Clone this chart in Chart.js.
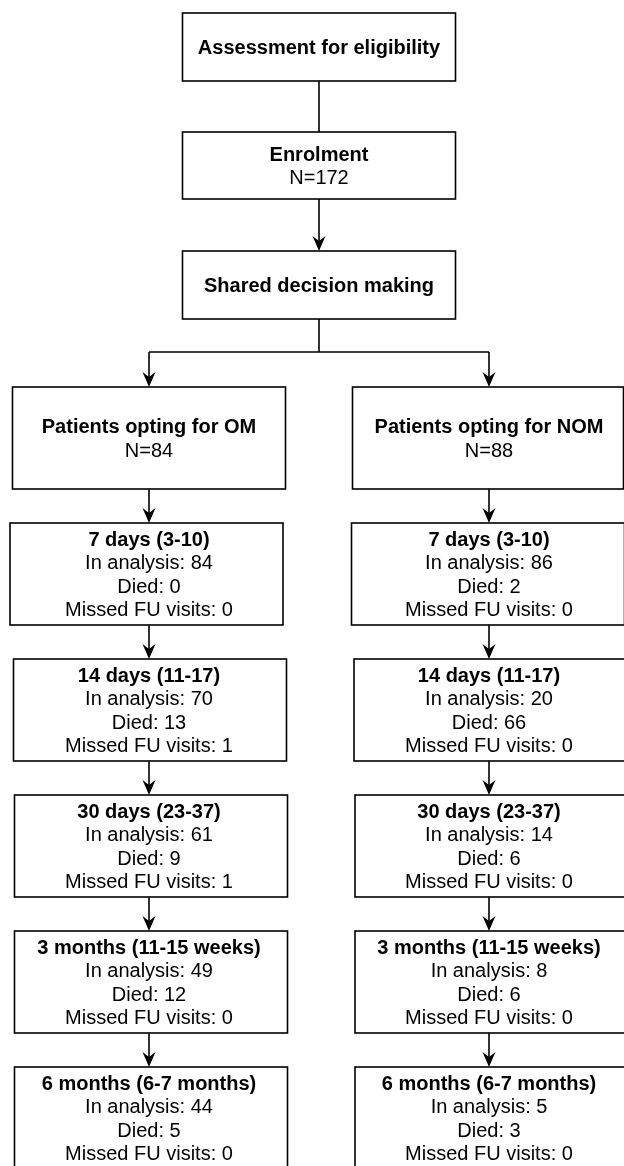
<!DOCTYPE html>
<html>
<head>
<meta charset="utf-8">
<script src="https://cdn.jsdelivr.net/npm/chart.js@4.4.1/dist/chart.umd.min.js"></script>
<style>
  html, body { margin: 0; padding: 0; background: #fff; }
  #wrap { width: 624px; height: 1166px; }
</style>
</head>
<body>
<div id="wrap"><canvas id="flow"></canvas></div>
<script>
// Flow data
const topSteps = ['Assessment for eligibility', 'Enrolment', 'Shared decision making'];
const enrolled = 172;
const groups = ['OM', 'NOM'];
const groupTotals = [84, 88];
const stages = ['7 days (3-10)', '14 days (11-17)', '30 days (23-37)', '3 months (11-15 weeks)', '6 months (6-7 months)'];
const omInAnalysis = [84, 70, 61, 49, 44];
const omDied = [0, 13, 9, 12, 5];
const omMissed = [0, 1, 1, 0, 0];
const nomInAnalysis = [86, 20, 14, 8, 5];
const nomDied = [2, 66, 6, 6, 3];
const nomMissed = [0, 0, 0, 0, 0];

// Layout (x in column units, y in layout units top-down)
const colUnit = 170;
const colLeftPx = 149;
const boxHalf = 136.5 / colUnit;
const topRows = [{ top: 13, h: 68 }, { top: 132, h: 67 }, { top: 251, h: 68 }];
const branchY = 352;
const groupRow = { top: 387, h: 102 };
const groupHalfPx = [136.5, 135.5];
const stageTop = 523, stagePitch = 136, stageH = 102;
// small horizontal nudges of the follow-up boxes, per column (px)
const stageNudge = [[-2.5, 1, 2, 2, 2], [-1, 1.5, 2.5, 2.5, 2.5]];

const FONT = '"Liberation Sans", Arial, Helvetica, sans-serif';
const lineGap = 23.5;

const flowPlugin = {
  id: 'flow',
  afterDraw(chart) {
    const ctx = chart.ctx;
    const xs = chart.scales.x, ys = chart.scales.y;
    const px = v => xs.getPixelForValue(v);
    const py = v => ys.getPixelForValue(v);

    ctx.save();
    ctx.strokeStyle = '#000';
    ctx.fillStyle = '#000';
    ctx.lineWidth = 1.6;

    const box = (col, top, h, lines, nudge = 0, half = boxHalf) => {
      const l = px(col - half) + nudge, r = px(col + half) + nudge;
      const t = py(top), b = py(top + h);
      ctx.fillStyle = '#fff';
      ctx.fillRect(l, t, r - l, b - t);
      ctx.strokeRect(l, t, r - l, b - t);
      ctx.fillStyle = '#000';
      ctx.textAlign = 'center';
      ctx.textBaseline = 'middle';
      const cx = px(col), cy = (t + b) / 2 + 1.5;
      const start = cy - (lines.length - 1) * lineGap / 2;
      lines.forEach((ln, i) => {
        ctx.font = (ln.bold ? 'bold ' : '') + '20px ' + FONT;
        ctx.fillText(ln.text, cx, start + i * lineGap);
      });
    };

    const line = (x1, y1, x2, y2) => {
      ctx.beginPath();
      ctx.moveTo(px(x1), py(y1));
      ctx.lineTo(px(x2), py(y2));
      ctx.stroke();
    };

    const arrow = (col, y1, y2) => {
      const x = px(col), a = py(y1), b = py(y2);
      ctx.beginPath();
      ctx.moveTo(x, a);
      ctx.lineTo(x, b - 8);
      ctx.stroke();
      ctx.beginPath();
      ctx.moveTo(x, b);
      ctx.lineTo(x - 6.5, b - 15);
      ctx.lineTo(x, b - 10);
      ctx.lineTo(x + 6.5, b - 15);
      ctx.closePath();
      ctx.fill();
    };

    // Top trunk
    box(1, topRows[0].top, topRows[0].h, [{ text: topSteps[0], bold: true }]);
    box(1, topRows[1].top, topRows[1].h, [{ text: topSteps[1], bold: true }, { text: 'N=' + enrolled }]);
    box(1, topRows[2].top, topRows[2].h, [{ text: topSteps[2], bold: true }]);
    line(1, topRows[0].top + topRows[0].h, 1, topRows[1].top);
    arrow(1, topRows[1].top + topRows[1].h, topRows[2].top);

    // Split into two groups
    line(1, topRows[2].top + topRows[2].h, 1, branchY);
    line(0, branchY, 2, branchY);
    const series = [
      { inA: omInAnalysis, died: omDied, missed: omMissed },
      { inA: nomInAnalysis, died: nomDied, missed: nomMissed }
    ];
    groups.forEach((g, gi) => {
      const col = gi * 2;
      arrow(col, branchY, groupRow.top);
      box(col, groupRow.top, groupRow.h, [
        { text: 'Patients opting for ' + g, bold: true },
        { text: 'N=' + groupTotals[gi] }
      ], gi ? -1 : 0, groupHalfPx[gi] / colUnit);
      let prevBottom = groupRow.top + groupRow.h;
      stages.forEach((s, si) => {
        const top = stageTop + si * stagePitch;
        arrow(col, prevBottom, top);
        box(col, top, stageH, [
          { text: s, bold: true },
          { text: 'In analysis: ' + series[gi].inA[si] },
          { text: 'Died: ' + series[gi].died[si] },
          { text: 'Missed FU visits: ' + series[gi].missed[si] }
        ], stageNudge[gi][si]);
        prevBottom = top + stageH;
      });
    });
    ctx.restore();
  }
};

const xMin = -colLeftPx / colUnit;
const xMax = xMin + 624 / colUnit;

new Chart(document.getElementById('flow'), {
  type: 'scatter',
  data: { datasets: [{ data: [] }] },
  options: {
    responsive: true,
    maintainAspectRatio: false,
    animation: false,
    layout: { padding: 0 },
    plugins: { legend: { display: false }, tooltip: { enabled: false } },
    scales: {
      x: { type: 'linear', display: false, min: xMin, max: xMax },
      y: { type: 'linear', display: false, reverse: true, min: 0, max: 1166 }
    }
  },
  plugins: [flowPlugin]
});
</script>
</body>
</html>
